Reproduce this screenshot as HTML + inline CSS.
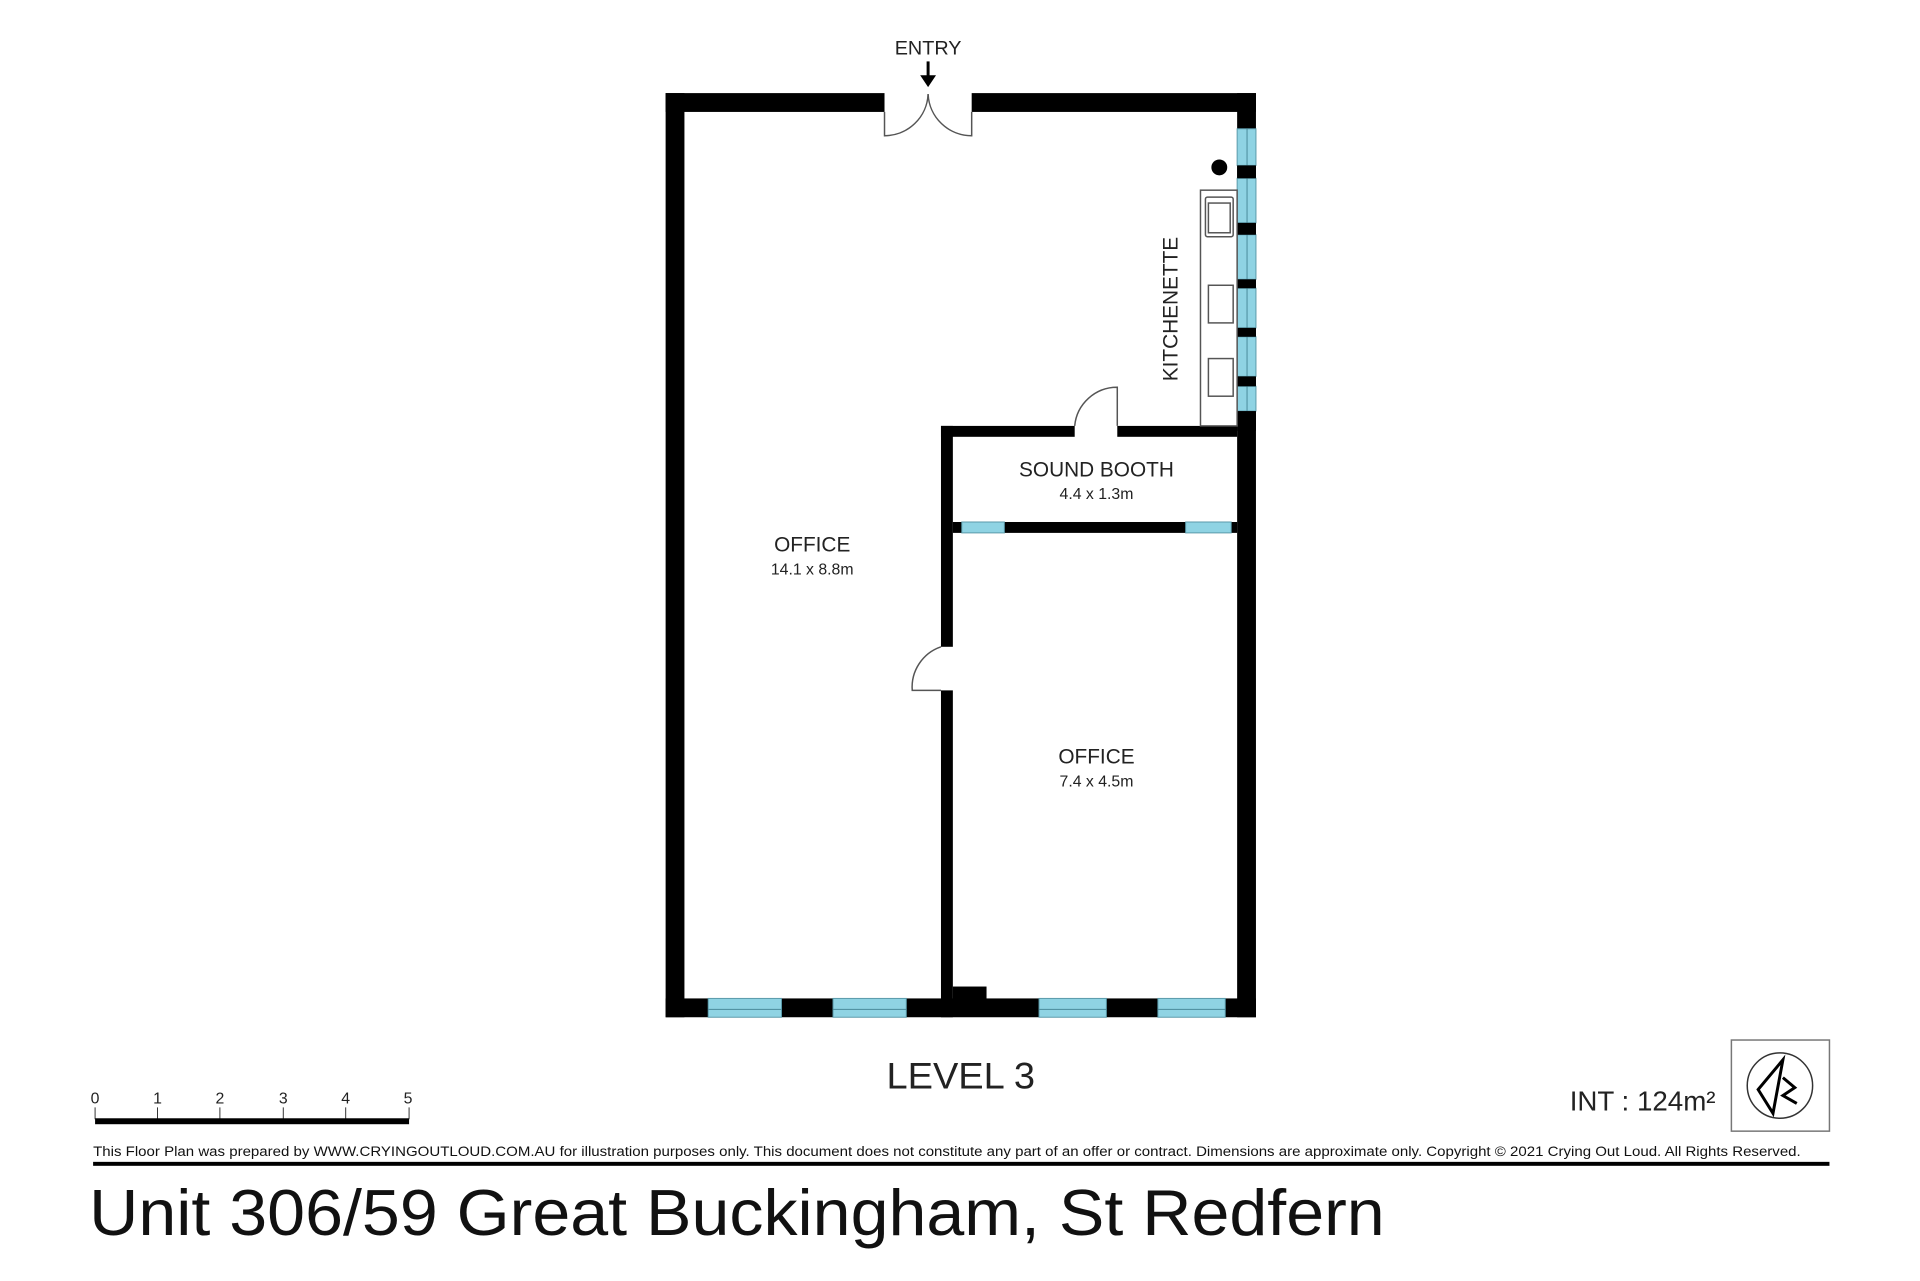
<!DOCTYPE html>
<html><head><meta charset="utf-8"><style>html,body{margin:0;padding:0;background:#fff}svg{display:block}</style></head>
<body>
<svg width="1920" height="1281" viewBox="0 0 1920 1281" xmlns="http://www.w3.org/2000/svg" font-family="Liberation Sans, sans-serif">
<rect width="1920" height="1281" fill="#fff"/>
<g transform="scale(0.9905)">
<g fill="#000">
<rect x="672" y="94" width="221" height="19"/>
<rect x="981" y="94" width="287" height="19"/>
<rect x="672" y="94" width="19" height="933"/>
<rect x="1249" y="94" width="19" height="933"/>
<rect x="672" y="1008" width="596" height="19"/>
<rect x="950" y="430" width="135" height="11"/>
<rect x="1128" y="430" width="121" height="11"/>
<rect x="950" y="430" width="12" height="223"/>
<rect x="950" y="697" width="12" height="330"/>
<rect x="962" y="527" width="287" height="11"/>
<rect x="962" y="996" width="34" height="14"/>
</g>
<g fill="#8fd3e3" stroke="#5a9aaa" stroke-width="1">
<rect x="715" y="1008" width="74" height="19"/>
<rect x="841" y="1008" width="74" height="19"/>
<rect x="1049" y="1008" width="68" height="19"/>
<rect x="1169" y="1008" width="68" height="19"/>
<rect x="971" y="527" width="43" height="11"/>
<rect x="1197" y="527" width="46" height="11"/>
<rect x="1249" y="130" width="19" height="37"/>
<rect x="1249" y="180" width="19" height="45"/>
<rect x="1249" y="237" width="19" height="45"/>
<rect x="1249" y="291" width="19" height="40"/>
<rect x="1249" y="340" width="19" height="40"/>
<rect x="1249" y="390" width="19" height="25"/>
</g>
<g stroke="#4a8a9a" stroke-width="1">
<line x1="715" y1="1019" x2="789" y2="1019"/><line x1="841" y1="1019" x2="915" y2="1019"/>
<line x1="1049" y1="1019" x2="1117" y2="1019"/><line x1="1169" y1="1019" x2="1237" y2="1019"/>
<line x1="1259" y1="130" x2="1259" y2="415"/>
</g>
<g fill="#000">
<rect x="1249" y="167" width="19" height="13"/><rect x="1249" y="225" width="19" height="12"/>
<rect x="1249" y="282" width="19" height="9"/><rect x="1249" y="331" width="19" height="9"/>
<rect x="1249" y="380" width="19" height="10"/><rect x="1249" y="415" width="19" height="20"/>
</g>
<g fill="none" stroke="#555" stroke-width="1.5">
<path d="M893 113 V137 A44 44 0 0 0 937 95"/>
<path d="M981 113 V137 A44 44 0 0 1 937 95"/>
<path d="M1085 430 A43 43 0 0 1 1128 391 V430"/>
<path d="M950 653 A43 43 0 0 0 921 697 H950"/>
<rect x="1212" y="192" width="37" height="238"/>
<rect x="1217" y="199" width="28" height="40" rx="2"/>
<rect x="1220" y="205" width="22" height="30"/>
<rect x="1220" y="288" width="25" height="38"/>
<rect x="1220" y="362" width="25" height="38"/>
</g>
<circle cx="1231" cy="169" r="8" fill="#000"/>
<text x="937" y="55" font-size="20" text-anchor="middle" fill="#222">ENTRY</text>
<line x1="937" y1="62" x2="937" y2="78" stroke="#000" stroke-width="3"/>
<polygon points="929,76 945,76 937,88" fill="#000"/>
<g fill="#222" text-anchor="middle">
<text x="1107" y="481" font-size="21">SOUND BOOTH</text>
<text x="1107" y="504" font-size="16">4.4 x 1.3m</text>
<text x="820" y="557" font-size="21">OFFICE</text>
<text x="820" y="580" font-size="16">14.1 x 8.8m</text>
<text x="1107" y="771" font-size="21">OFFICE</text>
<text x="1107" y="794" font-size="16">7.4 x 4.5m</text>
<text transform="translate(1189,312) rotate(-90)" font-size="21">KITCHENETTE</text>
<text x="970" y="1099" font-size="37" textLength="150" lengthAdjust="spacingAndGlyphs">LEVEL 3</text>
</g>
<g font-size="16" fill="#222" text-anchor="middle">
<text x="96" y="1114">0</text><text x="159" y="1114">1</text><text x="222" y="1114">2</text>
<text x="286" y="1114">3</text><text x="349" y="1114">4</text><text x="412" y="1114">5</text>
</g>
<g stroke="#333" stroke-width="1">
<line x1="96" y1="1118" x2="96" y2="1130"/><line x1="159" y1="1118" x2="159" y2="1130"/>
<line x1="222" y1="1118" x2="222" y2="1130"/><line x1="286" y1="1118" x2="286" y2="1130"/>
<line x1="349" y1="1118" x2="349" y2="1130"/><line x1="413" y1="1118" x2="413" y2="1130"/>
</g>
<rect x="96" y="1129" width="317" height="6" fill="#000"/>
<text x="1732" y="1121" font-size="28" text-anchor="end" fill="#222">INT : 124m²</text>
<rect x="1748" y="1050" width="99" height="92" fill="none" stroke="#777" stroke-width="1.5"/>
<circle cx="1797" cy="1096" r="33" fill="none" stroke="#333" stroke-width="1.5"/>
<path d="M1800 1070 L1775 1100 L1790 1124 Z" fill="none" stroke="#000" stroke-width="3"/>
<path d="M1800 1088 L1812 1098 L1800 1106 L1814 1114" fill="none" stroke="#000" stroke-width="3"/>
<text x="94" y="1167" font-size="14" fill="#111" textLength="1724" lengthAdjust="spacingAndGlyphs">This Floor Plan was prepared by WWW.CRYINGOUTLOUD.COM.AU for illustration purposes only. This document does not constitute any part of an offer or contract. Dimensions are approximate only. Copyright © 2021 Crying Out Loud. All Rights Reserved.</text>
<rect x="94" y="1173" width="1753" height="4" fill="#000"/>
<text x="90" y="1247" font-size="66" fill="#111" textLength="1308" lengthAdjust="spacingAndGlyphs">Unit 306/59 Great Buckingham, St Redfern</text>
</g>
</svg>
</body></html>
